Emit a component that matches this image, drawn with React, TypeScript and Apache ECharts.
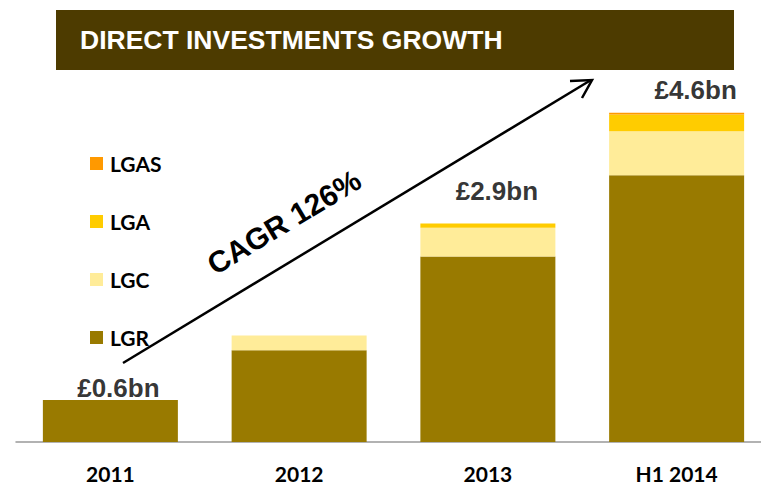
import React, { useEffect, useRef } from "react";
import * as echarts from "echarts";

const categories = ["2011", "2012", "2013", "H1 2014"];
const lgr = [0.6, 1.31, 2.65, 3.81];
const lgc = [0, 0.21, 0.41, 0.63];
const lga = [0, 0, 0.06, 0.24];
const lgas = [0, 0, 0, 0.025];
const totalLabels = ["£0.6bn", "", "£2.9bn", "£4.6bn"];
const labelOffsets = [[8, -12], [0, 0], [9, -33], [19, -23]];
const legendOrder = ["LGAS", "LGA", "LGC", "LGR"];
const titleText = "DIRECT INVESTMENTS GROWTH";
const cagrText = "CAGR 126%";

const COLORS = {
  LGR: "#997A00",
  LGC: "#FFEC99",
  LGA: "#FFCC00",
  LGAS: "#FF9900",
};

export default function App() {
  const ref = useRef<HTMLDivElement>(null);
  useEffect(() => {
    if (!ref.current) return;
    const chart = echarts.init(ref.current, null, { renderer: "svg" });
    const totals = categories.map((_, i) => lgr[i] + lgc[i] + lga[i] + lgas[i]);
    const barSeries = (name: string, data: number[]) => ({
      name,
      type: "bar",
      stack: "total",
      data,
      barWidth: 135,
      itemStyle: { color: (COLORS as any)[name] },
      emphasis: { disabled: true },
    });
    const ang = (31 * Math.PI) / 180;
    chart.setOption({
      animation: false,
      backgroundColor: "#ffffff",
      grid: { left: 16, top: 92, width: 755, height: 350, containLabel: false },
      legend: {
        data: legendOrder,
        orient: "vertical",
        left: 90,
        top: 153,
        padding: 0,
        itemWidth: 13,
        itemHeight: 13,
        itemGap: 37,
        icon: "rect",
        selectedMode: false,
        textStyle: {
          fontFamily: "Lato",
          fontWeight: "bold",
          fontSize: 21,
          lineHeight: 20,
          color: "#000",
          padding: [0, 0, 0, 2],
        },
      },
      xAxis: {
        type: "category",
        data: categories,
        axisLine: { show: true, lineStyle: { color: "#999999", width: 1.5 } },
        axisTick: { show: false },
        axisLabel: {
          margin: 21,
          fontFamily: "Lato",
          fontWeight: "bold",
          fontSize: 21,
          lineHeight: 21,
          color: "#000",
        },
      },
      yAxis: {
        type: "value",
        min: 0,
        max: 5,
        show: false,
        splitLine: { show: false },
      },
      series: [
        barSeries("LGR", lgr),
        barSeries("LGC", lgc),
        barSeries("LGA", lga),
        barSeries("LGAS", lgas),
        {
          name: "totals",
          type: "scatter",
          symbolSize: 0,
          silent: true,
          data: totals.map((t, i) => ({
            value: t,
            label: {
              show: totalLabels[i] !== "",
              formatter: totalLabels[i],
              offset: labelOffsets[i],
            },
          })),
          label: {
            show: true,
            position: "inside",
            fontFamily: "Liberation Sans, Arial, sans-serif",
            fontWeight: "bold",
            fontSize: 26,
            color: "#000",
          },
          z: 10,
        },
      ],
      graphic: [
        {
          type: "rect",
          shape: { x: 56, y: 10, width: 678, height: 60 },
          style: { fill: "#4D3B00" },
        },
        {
          type: "text",
          x: 80,
          y: 40,
          style: {
            text: titleText,
            fill: "#ffffff",
            font: "bold 26.5px 'Liberation Sans', Arial, sans-serif",
            textAlign: "left",
            textVerticalAlign: "middle",
          },
        },
        {
          type: "line",
          shape: { x1: 123, y1: 363, x2: 591, y2: 80 },
          style: { stroke: "#000", lineWidth: 2.5 },
        },
        {
          type: "polyline",
          shape: { points: [[570, 81], [592, 80], [582, 98]] },
          style: { stroke: "#000", lineWidth: 2.5, fill: null },
        },
        {
          type: "text",
          x: 284,
          y: 222,
          rotation: ang,
          style: {
            text: cagrText,
            fill: "#000",
            font: "bold 30px 'Liberation Sans', Arial, sans-serif",
            textAlign: "center",
            textVerticalAlign: "middle",
          },
        },
      ],
    });
    return () => chart.dispose();
  }, []);
  return (
    <div
      ref={ref}
      style={{ position: "fixed", left: 0, top: 0, width: 772, height: 486 }}
    />
  );
}
